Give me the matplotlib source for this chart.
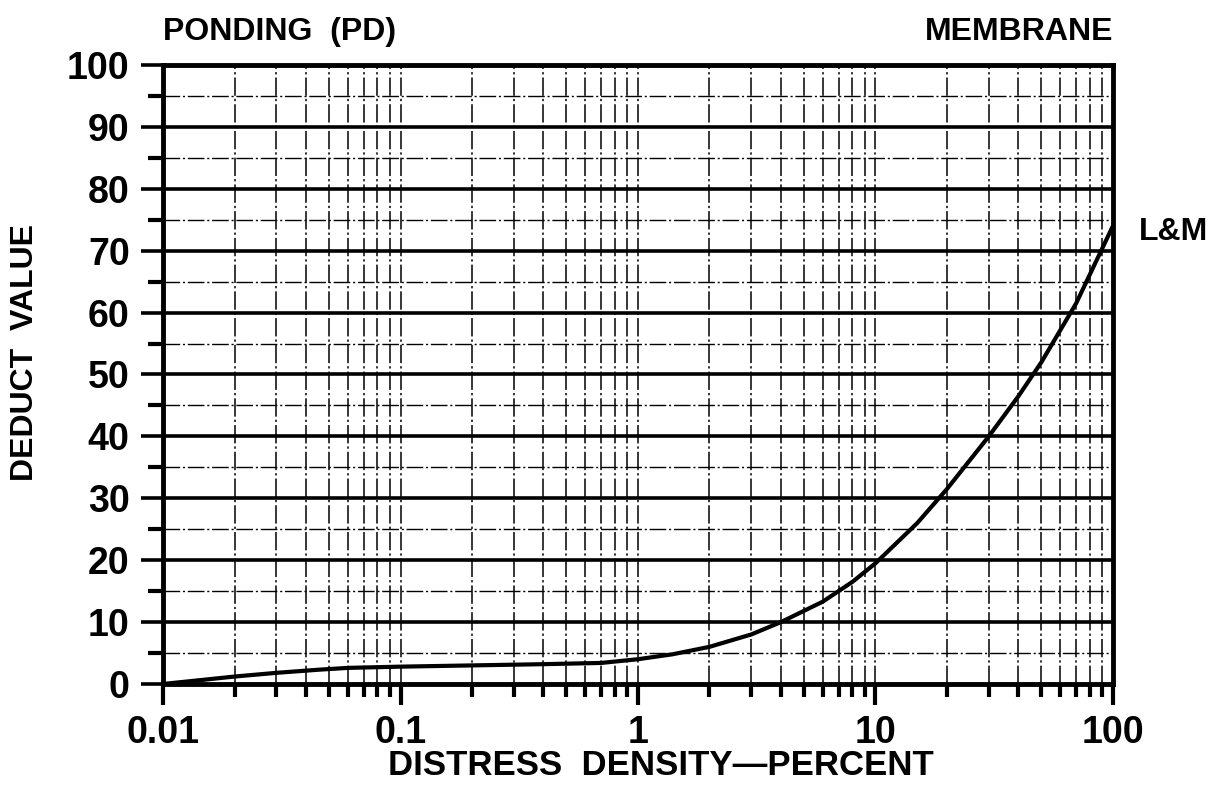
import matplotlib
matplotlib.use("Agg")
import matplotlib.pyplot as plt
from matplotlib.ticker import FixedLocator, NullFormatter

# Data
density = [0.01, 0.015, 0.02, 0.03, 0.045, 0.06, 0.1, 0.2, 0.4, 0.7, 1.0, 1.4, 2.0, 3.0,
           4.0, 6.0, 8.0, 10.0, 15.0, 20.0, 30.0, 40.0, 50.0, 70.0, 100.0]
deduct = [0.0, 0.7, 1.2, 1.8, 2.3, 2.6, 2.8, 3.0, 3.2, 3.4, 4.0, 4.8, 6.0, 8.0,
          10.0, 13.3, 16.5, 19.5, 26.0, 31.5, 40.0, 46.5, 52.0, 61.5, 74.0]
x_ticks = [0.01, 0.1, 1, 10, 100]
x_labels = ["0.01", "0.1", "1", "10", "100"]
y_ticks = [0, 10, 20, 30, 40, 50, 60, 70, 80, 90, 100]
title_left = "PONDING  (PD)"
title_right = "MEMBRANE"
curve_label = "L&M"
x_title = "DISTRESS  DENSITY\u2014PERCENT"
y_title = "DEDUCT  VALUE"

plt.rcParams['font.family'] = ['Liberation Sans', 'DejaVu Sans']
plt.rcParams['font.weight'] = 'bold'

fig = plt.figure(figsize=(12.23, 7.91), dpi=100)
ax = fig.add_axes([0.1333, 0.1353, 0.9100 - 0.1333, 0.9178 - 0.1353])

ax.set_xscale('log')
ax.set_xlim(0.01, 100)
ax.set_ylim(0, 100)

minor_x = [m * 10.0 ** e for e in range(-2, 2) for m in range(2, 10)]
minor_y = [v + 5 for v in y_ticks[:-1]]
ax.xaxis.set_major_locator(FixedLocator(x_ticks))
ax.xaxis.set_minor_locator(FixedLocator(minor_x))
ax.xaxis.set_minor_formatter(NullFormatter())
ax.set_xticklabels(x_labels)
ax.yaxis.set_major_locator(FixedLocator(y_ticks))
ax.yaxis.set_minor_locator(FixedLocator(minor_y))

# grid
dash = (0, (12, 2, 1.5, 2))
for v in y_ticks[1:-1]:
    ax.axhline(v, color='black', lw=2.6, zorder=1)
for v in minor_y:
    ax.axhline(v, color='black', lw=1.0, ls=dash, zorder=1)
for v in minor_x + x_ticks[1:-1]:
    ax.axvline(v, color='black', lw=1.1, ls=dash, zorder=1)

ax.plot(density, deduct, color='black', lw=3.0, solid_capstyle='round', zorder=3)

for s in ax.spines.values():
    s.set_linewidth(3.5)

ax.tick_params(axis='x', which='major', direction='out', length=15, width=3.0,
               labelsize=27, pad=7)
ax.tick_params(axis='x', which='minor', direction='out', length=9, width=3.0)
ax.tick_params(axis='y', which='major', direction='out', length=16, width=2.6,
               labelsize=27, pad=8)
ax.tick_params(axis='y', which='minor', direction='out', length=11, width=3.0)
for lab in ax.get_xticklabels() + ax.get_yticklabels():
    lab.set_fontweight('bold')

ax.set_xlabel(x_title, fontsize=25, fontweight='bold', va='center')
ax.xaxis.set_label_coords(0.524, -0.131)
ax.set_ylabel(y_title, fontsize=23, fontweight='bold', va='center')
ax.yaxis.set_label_coords(-0.145, 0.535)

ax.text(0.0, 1.053, title_left, transform=ax.transAxes, fontsize=23,
        fontweight='bold', ha='left', va='center')
ax.text(1.0, 1.053, title_right, transform=ax.transAxes, fontsize=23,
        fontweight='bold', ha='right', va='center')
ax.annotate(curve_label, xy=(100, deduct[-1]), xytext=(19, -4),
            textcoords='offset points', fontsize=23, fontweight='bold',
            ha='left', va='center', annotation_clip=False)

fig.savefig("out.png", dpi=100, facecolor='white')
